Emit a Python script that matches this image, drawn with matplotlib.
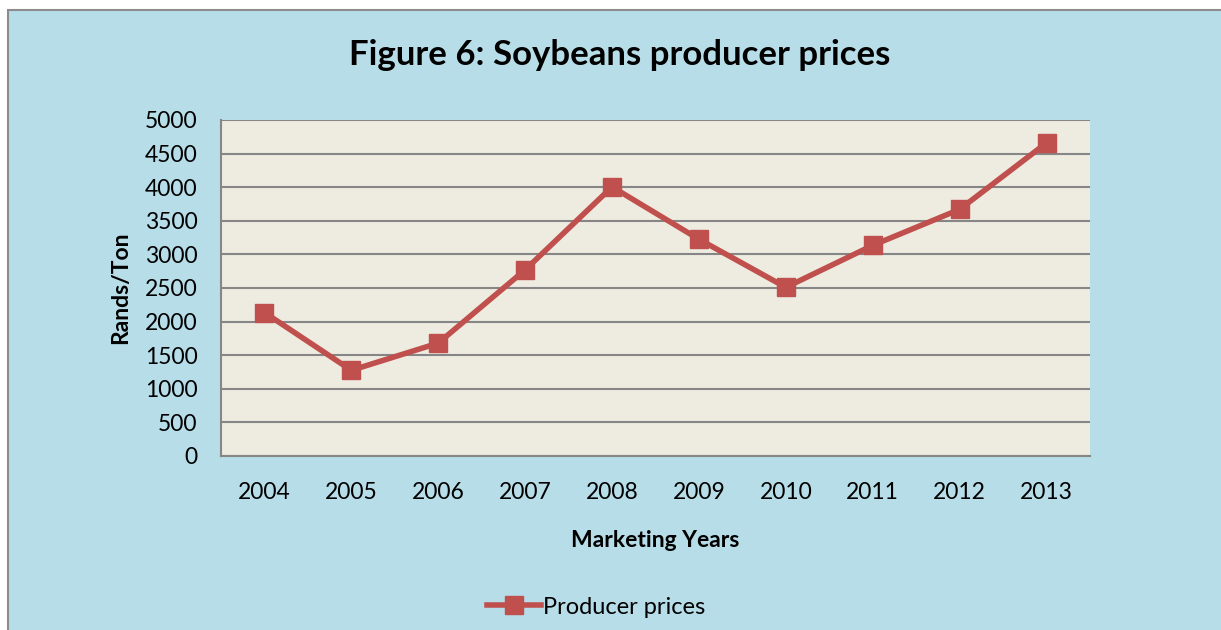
import matplotlib.pyplot as plt
from matplotlib.patches import Rectangle

years = ['2004', '2005', '2006', '2007', '2008', '2009', '2010', '2011', '2012', '2013']
prices = [2135, 1275, 1680, 2770, 4005, 3225, 2510, 3135, 3670, 4660]

plt.rcParams['font.family'] = ['Lato', 'DejaVu Sans']

W, H = 1221, 630
fig = plt.figure(figsize=(W / 100, H / 100), dpi=100)
fig.patch.set_facecolor('white')

# chart area background with grey border (cut off at right/bottom)
fig.patches.append(Rectangle((8 / W, -0.1), 1.2, (H - 10) / H + 0.1, transform=fig.transFigure,
                             facecolor='#B7DDE8', edgecolor='#8C8C8C', linewidth=1.5, zorder=-5))

ax = fig.add_axes([221 / W, 1 - 456 / H, (1090 - 221) / W, (456 - 120) / H])
ax.set_facecolor('#EEECE1')

x = range(len(years))
ax.plot(x, prices, color='#C0504D', linewidth=4, marker='s', markersize=13,
        markeredgecolor='#C0504D', label='Producer prices', zorder=3)

ax.set_xlim(-0.5, len(years) - 0.5)
ax.set_ylim(0, 5000)
ax.set_yticks(range(0, 5001, 500))
ax.set_xticks(list(x))
ax.set_xticklabels(years)
ax.yaxis.grid(True, color='#868686', linewidth=1.5)
ax.set_axisbelow(True)
ax.tick_params(axis='both', length=0, labelsize=16.5, colors='black')
ax.tick_params(axis='x', pad=19)
ax.tick_params(axis='y', pad=17)
for s in ['top', 'right']:
    ax.spines[s].set_visible(False)
for s in ['left', 'bottom']:
    ax.spines[s].set_color('#868686')
    ax.spines[s].set_linewidth(1.5)

ax.set_ylabel('Rands/Ton', fontsize=16.5, fontweight='bold', labelpad=10)
ax.set_xlabel('Marketing Years', fontsize=16.5, fontweight='bold', labelpad=19)

fig.text(620 / W, 1 - 55 / H, 'Figure 6: Soybeans producer prices', fontsize=25,
         fontweight='bold', ha='center', va='center')

fig.legend(loc='center', bbox_to_anchor=(596 / W, 1 - 607 / H), frameon=False,
           fontsize=17, handlelength=2.3, handletextpad=0.1)

fig.savefig('out.png', dpi=100, facecolor=fig.get_facecolor())
